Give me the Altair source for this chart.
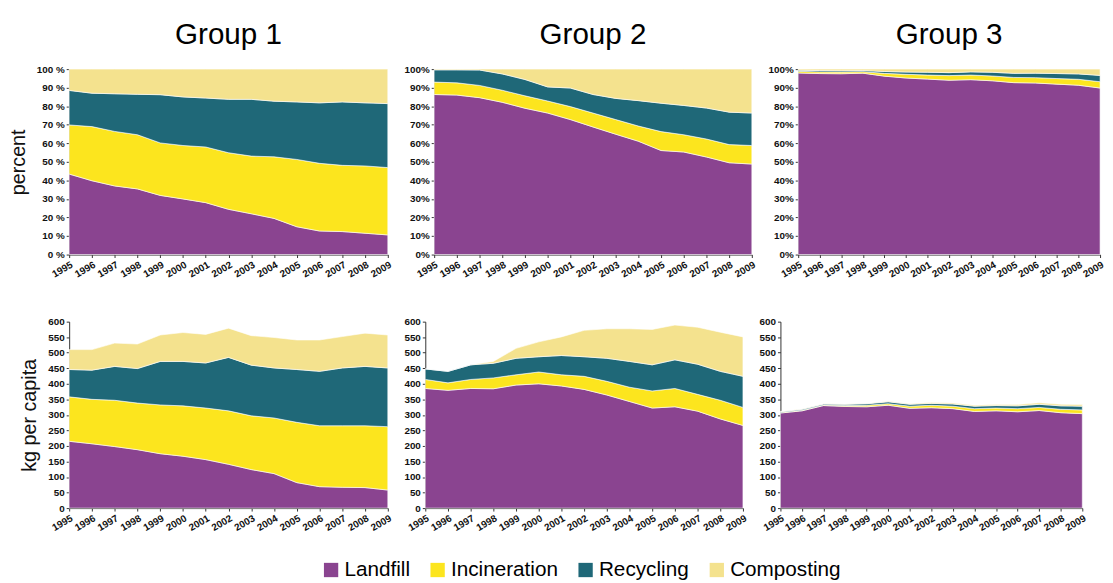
import altair as alt
import pandas as pd

years = list(range(1995, 2010))
categories = ["Landfill", "Incineration", "Recycling", "Composting"]
colors = ["#8a4490", "#fce51e", "#1f6878", "#f4e28e"]
groups = ["Group 1", "Group 2", "Group 3"]

# ---- percent shares ----
g1_pct_landfill = [43.4, 39.8, 37.0, 35.4, 31.9, 30.0, 28.0, 24.4, 22.0, 19.5, 15.0, 12.7, 12.4, 11.5, 10.6]
g1_pct_incin = [26.5, 29.2, 29.4, 29.2, 28.3, 28.8, 30.0, 30.5, 31.1, 33.2, 36.3, 36.5, 35.7, 36.3, 36.3]
g1_pct_recyc = [18.6, 18.0, 20.3, 21.8, 26.0, 26.2, 26.4, 28.8, 30.6, 30.0, 31.0, 32.6, 34.2, 34.0, 34.5]
g1_pct_compost = [11.5, 13.0, 13.3, 13.6, 13.8, 15.0, 15.6, 16.3, 16.3, 17.3, 17.7, 18.2, 17.7, 18.2, 18.6]

g2_pct_landfill = [86.3, 86.0, 84.6, 82.1, 78.9, 76.3, 72.8, 68.8, 64.9, 61.1, 56.1, 55.3, 52.6, 49.5, 48.8]
g2_pct_incin = [6.7, 6.6, 6.6, 6.5, 6.7, 6.5, 7.0, 7.5, 7.9, 8.2, 10.2, 9.3, 9.7, 9.8, 10.0]
g2_pct_recyc = [6.6, 7.0, 8.3, 8.8, 8.8, 7.6, 10.0, 10.0, 11.4, 13.7, 15.3, 15.8, 16.7, 17.5, 17.5]
g2_pct_compost = [0.4, 0.4, 0.5, 2.6, 5.6, 9.6, 10.2, 13.7, 15.8, 17.0, 18.4, 19.6, 21.0, 23.2, 23.7]

g3_pct_landfill = [97.9, 97.6, 97.5, 97.8, 96.2, 95.2, 94.6, 94.0, 94.3, 93.7, 92.7, 92.5, 91.9, 91.3, 89.8]
g3_pct_incin = [0.9, 0.9, 0.9, 0.8, 1.5, 2.0, 2.2, 2.5, 2.5, 2.6, 2.8, 2.9, 3.0, 3.2, 3.4]
g3_pct_recyc = [0.6, 0.7, 0.7, 0.6, 1.0, 1.2, 1.5, 1.6, 1.7, 2.0, 2.2, 2.4, 2.7, 2.9, 3.4]
g3_pct_compost = [0.6, 0.8, 0.9, 0.8, 1.3, 1.6, 1.7, 1.9, 1.5, 1.7, 2.3, 2.2, 2.4, 2.6, 3.4]

# ---- kg per capita ----
g1_kg_landfill = [215, 207, 198, 188, 175, 167, 156, 141, 124, 111, 82, 69, 67, 66, 58]
g1_kg_incin = [143, 143, 149, 150, 157, 162, 166, 172, 173, 179, 194, 196, 198, 199, 204]
g1_kg_recyc = [88, 94, 109, 111, 140, 143, 145, 172, 163, 161, 170, 175, 186, 191, 189]
g1_kg_compost = [64, 66, 75, 79, 85, 93, 92, 94, 95, 98, 95, 101, 101, 107, 106]

g2_kg_landfill = [385, 379, 385, 384, 396, 400, 393, 382, 364, 343, 322, 326, 312, 287, 266]
g2_kg_incin = [29, 24, 29, 35, 33, 38, 36, 42, 44, 46, 55, 59, 54, 60, 58]
g2_kg_recyc = [34, 37, 47, 47, 53, 49, 62, 63, 74, 83, 84, 92, 97, 93, 100]
g2_kg_compost = [0, 0, 0, 6, 32, 48, 60, 85, 95, 105, 114, 112, 119, 126, 127]

g3_kg_landfill = [306, 313, 330, 327, 326, 331, 321, 323, 320, 311, 313, 310, 314, 307, 304]
g3_kg_incin = [2, 2, 2, 3, 5, 5, 7, 8, 8, 9, 9, 10, 10, 11, 12]
g3_kg_recyc = [2, 3, 3, 4, 5, 6, 6, 6, 7, 8, 8, 9, 10, 11, 12]
g3_kg_compost = [1, 1, 1, 1, 1, 2, 2, 3, 3, 3, 3, 4, 5, 5, 5]

FONT = "Liberation Sans"


def long_df(series):
    rows = []
    for k, cat in enumerate(categories):
        for yr, v in zip(years, series[k]):
            rows.append({"year": yr, "category": cat, "ord": k, "value": v})
    return pd.DataFrame(rows)


def panel(series, metric, width, title=None, ytitle="", pct_space=False):
    df = long_df(series)
    if metric == "pct":
        sep = " %" if pct_space else "%"
        yscale = alt.Scale(domain=[0, 100], nice=False)
        yaxis = alt.Axis(values=list(range(0, 101, 10)),
                         labelExpr="datum.value + '" + sep + "'",
                         title=ytitle)
        height = 188
    else:
        yscale = alt.Scale(domain=[0, 600], nice=False)
        yaxis = alt.Axis(values=list(range(0, 601, 50)), title=ytitle)
        height = 189
    base = alt.Chart(df).mark_area(opacity=1, stroke="white", strokeWidth=0.6).encode(
        x=alt.X("year:Q",
                scale=alt.Scale(domain=[1995, 2009], nice=False, zero=False),
                axis=alt.Axis(values=years, format="d", labelAngle=-30,
                              labelAlign="right", labelBaseline="top",
                              title=None, labelFlush=False, labelOverlap=False)),
        y=alt.Y("value:Q", stack="zero", scale=yscale, axis=yaxis),
        color=alt.Color("category:N",
                        scale=alt.Scale(domain=categories, range=colors),
                        legend=alt.Legend(orient="none", direction="horizontal",
                                          legendX=255, legendY=497,
                                          title=None, symbolType="square",
                                          symbolSize=210, symbolStrokeWidth=0,
                                          labelFontSize=21, labelFont=FONT,
                                          columnPadding=17, labelOffset=3)),
        order=alt.Order("ord:Q"),
    )
    props = {"width": width, "height": height}
    if title:
        props["title"] = alt.Title(title, fontSize=30, fontWeight="normal",
                                   font=FONT, offset=14)
    return base.properties(**props)


pct = [
    [g1_pct_landfill, g1_pct_incin, g1_pct_recyc, g1_pct_compost],
    [g2_pct_landfill, g2_pct_incin, g2_pct_recyc, g2_pct_compost],
    [g3_pct_landfill, g3_pct_incin, g3_pct_recyc, g3_pct_compost],
]
kg = [
    [g1_kg_landfill, g1_kg_incin, g1_kg_recyc, g1_kg_compost],
    [g2_kg_landfill, g2_kg_incin, g2_kg_recyc, g2_kg_compost],
    [g3_kg_landfill, g3_kg_incin, g3_kg_recyc, g3_kg_compost],
]
widths = [323, 322, 306]

top = alt.hconcat(
    panel(pct[0], "pct", widths[0], groups[0], "percent", pct_space=True),
    panel(pct[1], "pct", widths[1], groups[1]),
    panel(pct[2], "pct", widths[2], groups[2]),
    spacing=11,
)
bottom = alt.hconcat(
    panel(kg[0], "kg", widths[0], None, "kg per capita"),
    panel(kg[1], "kg", widths[1]),
    panel(kg[2], "kg", widths[2]),
    spacing=11,
)

chart = alt.vconcat(top, bottom, spacing=38).properties(
    padding={"left": 0, "top": 9, "right": 0, "bottom": 0}
).configure_view(stroke=None).configure_axis(
    labelFont=FONT, labelFontSize=10, labelFontWeight="bold", labelColor="#111",
    domainColor="#333", tickColor="#333", grid=False,
    titleFont=FONT, titleFontSize=20, titleFontWeight="normal", titleColor="#111",
    tickSize=3, labelPadding=2, titlePadding=8,
)

chart.save("out.html", embed_options={"renderer": "svg", "actions": False})
